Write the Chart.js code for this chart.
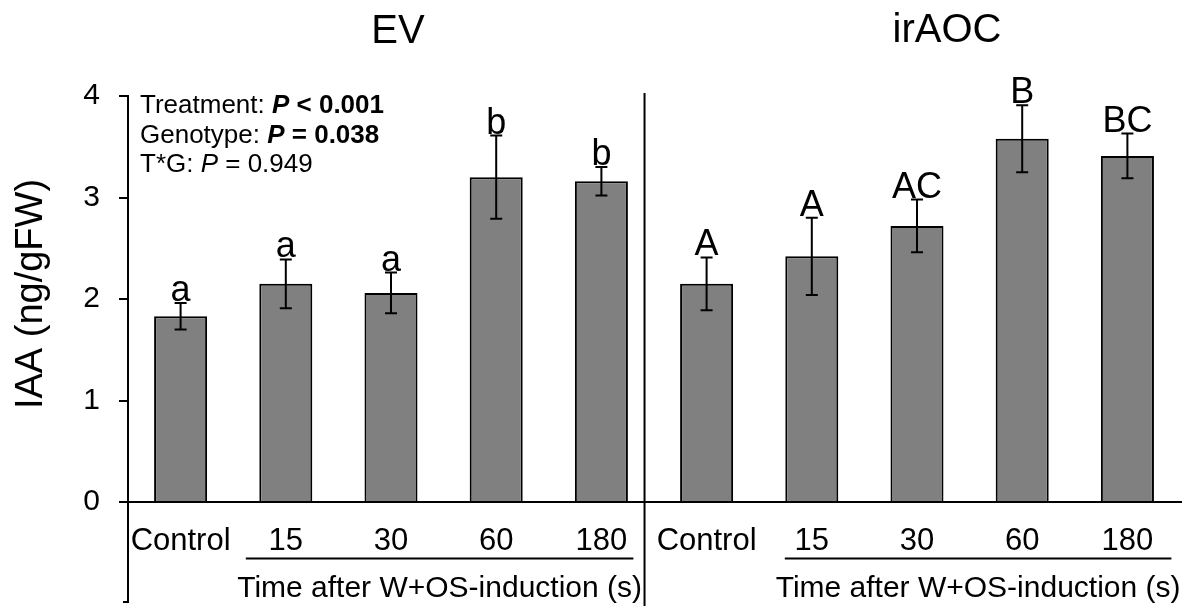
<!DOCTYPE html>
<html>
<head>
<meta charset="utf-8">
<script src="https://cdn.jsdelivr.net/npm/chart.js@4/dist/chart.umd.min.js"></script>
<style>
  html, body { margin: 0; padding: 0; background: #fff; }
  #wrap { width: 1186px; height: 608px; position: relative; }
</style>
</head>
<body>
<div id="wrap"><canvas id="iaaChart"></canvas></div>
<script>
const FONT = '"Liberation Sans", Arial, Helvetica, sans-serif';

const groups = ['EV', 'irAOC'];
const categories = ['Control', '15', '30', '60', '180', 'Control', '15', '30', '60', '180'];
const iaaMean = [1.83, 2.15, 2.06, 3.20, 3.16, 2.15, 2.42, 2.72, 3.58, 3.41];
const iaaErr = [0.13, 0.24, 0.20, 0.41, 0.14, 0.26, 0.38, 0.26, 0.33, 0.22];
const sigLetters = ['a', 'a', 'a', 'b', 'b', 'A', 'A', 'AC', 'B', 'BC'];
const yTicks = [0, 1, 2, 3, 4];
const yTitle = 'IAA (ng/gFW)';
const timeLabel = 'Time after W+OS-induction (s)';
const statsLines = [
    [['Treatment: ', ''], ['P', 'italic bold'], [' < 0.001', 'bold']],
    [['Genotype: ', ''], ['P', 'italic bold'], [' = 0.038', 'bold']],
    [['T*G: ', ''], ['P', 'italic'], [' = 0.949', '']]
];

Chart.defaults.font.family = FONT;

// everything that is not a bar: error bars, letters, labels, lines
const annotate = {
    id: 'annotate',
    afterDatasetsDraw(chart) {
        const { ctx, chartArea: a, scales: { x, y } } = chart;
        const catW = x.getPixelForValue(1) - x.getPixelForValue(0);
        const y0 = y.getPixelForValue(0);
        ctx.save();
        ctx.strokeStyle = '#000';
        ctx.fillStyle = '#000';
        ctx.lineWidth = 2;

        // error bars and significance letters
        iaaMean.forEach((m, i) => {
            const cx = x.getPixelForValue(i);
            const hi = y.getPixelForValue(m + iaaErr[i]);
            const lo = y.getPixelForValue(m - iaaErr[i]);
            ctx.beginPath();
            ctx.moveTo(cx, hi); ctx.lineTo(cx, lo);
            ctx.moveTo(cx - 6, hi); ctx.lineTo(cx + 6, hi);
            ctx.moveTo(cx - 6, lo); ctx.lineTo(cx + 6, lo);
            ctx.stroke();
            ctx.font = '36px ' + FONT;
            ctx.textAlign = 'center';
            ctx.textBaseline = 'alphabetic';
            ctx.fillText(sigLetters[i], cx, hi - 2);
        });

        // x axis line, left axis extension, divider
        ctx.beginPath();
        ctx.moveTo(a.left, y0); ctx.lineTo(a.right + 2, y0);
        ctx.moveTo(a.left, y0); ctx.lineTo(a.left, 602);
        ctx.lineTo(a.left - 5, 602);
        const divX = x.getPixelForValue(4) + 0.41 * catW;
        ctx.moveTo(divX, 93); ctx.lineTo(divX, 606);
        ctx.stroke();

        // category labels
        ctx.font = '31px ' + FONT;
        ctx.textAlign = 'center';
        categories.forEach((c, i) => ctx.fillText(c, x.getPixelForValue(i), 550));

        // underline + time label per group
        const spans = [[1, 4, -40, 32], [6, 9, -27, 44]];
        spans.forEach(([i0, i1, o0, o1]) => {
            const xl = x.getPixelForValue(i0) + o0;
            const xr = x.getPixelForValue(i1) + o1;
            ctx.beginPath();
            ctx.moveTo(xl, 558.5); ctx.lineTo(xr, 558.5);
            ctx.stroke();
            ctx.font = '30px ' + FONT;
            ctx.fillText(timeLabel, (xl + xr) / 2, 597);
        });

        // group titles
        ctx.font = '40px ' + FONT;
        ctx.fillText(groups[0], x.getPixelForValue(2) + 7, 43);
        ctx.fillText(groups[1], x.getPixelForValue(7) + 30, 42);

        // y axis title
        ctx.save();
        ctx.translate(42, 294);
        ctx.rotate(-Math.PI / 2);
        ctx.font = '38px ' + FONT;
        ctx.fillText(yTitle, 0, 0);
        ctx.restore();

        // stats text
        ctx.textAlign = 'left';
        statsLines.forEach((runs, li) => {
            let tx = 140;
            runs.forEach(([txt, style]) => {
                ctx.font = (style ? style + ' ' : '') + '26px ' + FONT;
                ctx.fillText(txt, tx, 113 + li * 29.5);
                tx += ctx.measureText(txt).width;
            });
        });
        ctx.restore();
    }
};

new Chart(document.getElementById('iaaChart'), {
    type: 'bar',
    data: {
        labels: categories,
        datasets: [{
            data: iaaMean,
            backgroundColor: '#808080',
            borderColor: '#000',
            borderWidth: 2,
            borderSkipped: 'bottom',
            barPercentage: 0.504,
            categoryPercentage: 1.0
        }]
    },
    options: {
        responsive: true,
        maintainAspectRatio: false,
        animation: false,
        layout: { padding: { top: 96, bottom: 106, left: 0, right: 6 } },
        plugins: {
            legend: { display: false },
            tooltip: { enabled: false }
        },
        scales: {
            x: { type: 'category', offset: true, display: false },
            y: {
                min: 0,
                max: 4,
                afterBuildTicks: (s) => { s.ticks = yTicks.map(v => ({ value: v })); },
                afterFit: (s) => { s.width = 128; },
                ticks: { color: '#000', font: { size: 30 }, padding: 19 },
                grid: { drawOnChartArea: false, drawTicks: true, tickLength: 9, color: '#000', lineWidth: 2 },
                border: { display: true, color: '#000', width: 2 }
            }
        }
    },
    plugins: [annotate]
});
</script>
</body>
</html>
